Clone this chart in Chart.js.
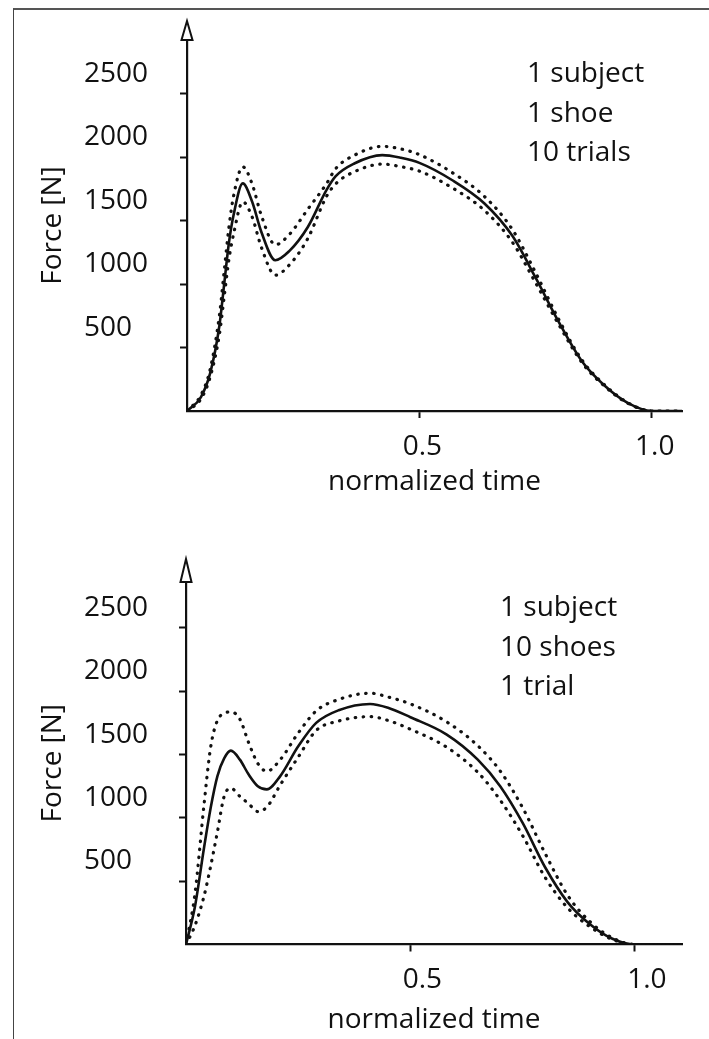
<!DOCTYPE html>
<html>
<head>
<meta charset="utf-8">
<script src="https://cdn.jsdelivr.net/npm/chart.js@4.4.0/dist/chart.umd.min.js"></script>
<style>
  html, body { margin: 0; padding: 0; background: #fff; }
  body { width: 709px; height: 1039px; position: relative; overflow: hidden; font-family: "Open Sans", sans-serif; }
  .frame { position: absolute; left: 13px; top: 8px; width: 700px; height: 1040px; border-left: 1px solid #444; border-top: 2px solid #555; }
  canvas { position: absolute; left: 0; }
  #top { top: 0; }
  #bottom { top: 520px; }
  .note { position: absolute; font-size: 28px; line-height: 39.5px; color: #111; white-space: pre; }
  #noteTop { left: 527px; top: 52px; }
  #noteBottom { left: 500px; top: 586px; }
</style>
</head>
<body>
<div class="frame"></div>
<canvas id="top" width="709" height="520"></canvas>
<canvas id="bottom" width="709" height="519"></canvas>
<div class="note" id="noteTop"></div>
<div class="note" id="noteBottom"></div>
<script>
// top panel: 1 subject, 1 shoe, 10 trials (mean and +/- band), force in N
const timeA  = [0, 0.03, 0.05, 0.07, 0.08, 0.09, 0.1, 0.12, 0.14, 0.16, 0.19, 0.22, 0.26, 0.3, 0.32, 0.36, 0.42, 0.46, 0.5, 0.57, 0.64, 0.7, 0.75, 0.8, 0.85, 0.9, 0.95, 1.0, 1.065];
const meanA  = [0, 110, 300, 680, 1000, 1320, 1540, 1793, 1650, 1410, 1188, 1260, 1450, 1740, 1850, 1950, 2016, 1995, 1955, 1820, 1635, 1380, 1050, 700, 390, 195, 60, 0, 0];
const upperA = [0, 125, 330, 760, 1100, 1440, 1690, 1924, 1790, 1540, 1310, 1390, 1590, 1790, 1910, 2015, 2085, 2065, 2020, 1880, 1690, 1430, 1090, 720, 400, 200, 62, 0, 0];
const lowerA = [0, 95, 270, 610, 900, 1190, 1390, 1648, 1530, 1290, 1070, 1150, 1360, 1690, 1790, 1885, 1945, 1925, 1890, 1760, 1580, 1330, 1010, 680, 380, 190, 58, 0, 0];

// bottom panel: 1 subject, 10 shoes, 1 trial
const timeB  = [0, 0.02, 0.04, 0.055, 0.07, 0.085, 0.1, 0.12, 0.14, 0.16, 0.18, 0.21, 0.25, 0.29, 0.34, 0.41, 0.45, 0.5, 0.58, 0.65, 0.7, 0.75, 0.8, 0.85, 0.9, 0.95, 1.0, 1.105];
const meanB  = [0, 300, 760, 1080, 1330, 1470, 1531, 1460, 1340, 1250, 1225, 1330, 1565, 1750, 1850, 1900, 1870, 1795, 1660, 1460, 1250, 960, 610, 335, 160, 45, 0, 0];
const upperB = [0, 400, 1100, 1560, 1770, 1825, 1838, 1780, 1590, 1430, 1368, 1460, 1670, 1845, 1935, 1985, 1955, 1900, 1760, 1570, 1370, 1080, 720, 390, 180, 52, 0, 0];
const lowerB = [0, 150, 380, 620, 890, 1170, 1234, 1170, 1110, 1050, 1085, 1260, 1480, 1690, 1765, 1800, 1770, 1700, 1560, 1360, 1140, 860, 530, 290, 140, 40, 0, 0];

const yTicks = [500, 1000, 1500, 2000, 2500];
const xTicks = [0.5, 1.0];
const notesA = ['1 subject', '1 shoe', '10 trials'];
const notesB = ['1 subject', '10 shoes', '1 trial'];

const ink = '#111';
const tickFont = { family: 'Open Sans', size: 28 };
const titleFont = { family: 'Open Sans', size: 28 };

document.getElementById('noteTop').textContent = notesA.join('\n');
document.getElementById('noteBottom').textContent = notesB.join('\n');

// open arrow head on top of the force axis
const arrowPlugin = {
  id: 'arrow',
  afterDraw(chart, args, opts) {
    const { ctx, chartArea } = chart;
    const x = chartArea.left, y = chartArea.top;
    ctx.save();
    ctx.beginPath();
    ctx.moveTo(x - 5.5, y);
    ctx.lineTo(x, y - opts.height);
    ctx.lineTo(x + 5.5, y);
    ctx.closePath();
    ctx.fillStyle = '#fff';
    ctx.fill();
    ctx.lineWidth = 2;
    ctx.strokeStyle = ink;
    ctx.stroke();
    ctx.restore();
  }
};

function series(t, f) {
  return t.map((x, i) => ({ x: x, y: f[i] }));
}

function dataset(t, f, dotted) {
  return {
    data: series(t, f),
    borderColor: ink,
    borderWidth: dotted ? 3.2 : 2.6,
    borderDash: dotted ? [0.5, 7.5] : [],
    borderCapStyle: 'round',
    cubicInterpolationMode: 'monotone',
    pointRadius: 0,
    fill: false
  };
}

// y labels sit left-aligned at the scale's left edge (x = 84)
const labelLeft = 84;

function makeChart(id, t, mean, upper, lower, c) {
  new Chart(document.getElementById(id), {
    type: 'line',
    data: {
      datasets: [dataset(t, upper, true), dataset(t, lower, true), dataset(t, mean, false)]
    },
    plugins: [arrowPlugin],
    options: {
      responsive: false,
      animation: false,
      devicePixelRatio: 1,
      layout: { padding: { top: c.top, right: c.right, left: labelLeft, bottom: 0 } },
      plugins: {
        legend: { display: false },
        tooltip: { enabled: false },
        arrow: { height: c.arrow }
      },
      scales: {
        x: {
          type: 'linear',
          min: 0,
          max: c.xMax,
          afterFit: s => { s.height = c.xHeight; },
          afterBuildTicks: s => { s.ticks = xTicks.map(v => ({ value: v })); },
          border: { display: true, color: ink, width: 2.2 },
          grid: { drawOnChartArea: false, drawTicks: true, tickLength: 7, tickWidth: 2, tickColor: ink, color: ink },
          ticks: {
            font: tickFont, color: ink, padding: 12, labelOffset: c.xLabelOffset,
            autoSkip: false, maxRotation: 0,
            callback: v => v.toFixed(1)
          },
          title: { display: true, text: 'normalized time', font: titleFont, color: ink, padding: { top: 0, bottom: c.xTitlePad } }
        },
        y: {
          min: 0,
          max: c.yMax,
          afterFit: s => { s.width = c.axisX - labelLeft; },
          afterBuildTicks: s => { s.ticks = yTicks.map(v => ({ value: v })); },
          border: { display: true, color: ink, width: 2.2 },
          grid: { drawOnChartArea: false, drawTicks: true, tickLength: 7, tickWidth: 2, tickColor: ink, color: ink },
          ticks: {
            font: tickFont, color: ink, padding: 0, labelOffset: -20,
            crossAlign: 'far', autoSkip: false,
            callback: v => String(v)
          },
          title: { display: true, text: 'Force [N]', font: titleFont, color: ink, padding: { top: 53 - labelLeft - 16.8, bottom: 0 } }
        }
      }
    }
  });
}

makeChart('top', timeA, meanA, upperA, lowerA, {
  top: 40, right: 27, xMax: 1.065, yMax: 2923, axisX: 187, xHeight: 109,
  xTitlePad: 21, xLabelOffset: 3, arrow: 19
});
makeChart('bottom', timeB, meanB, upperB, lowerB, {
  top: 62, right: 27, xMax: 1.105, yMax: 2863, axisX: 186, xHeight: 94.5,
  xTitlePad: 2, xLabelOffset: 12, arrow: 23
});
</script>
</body>
</html>
